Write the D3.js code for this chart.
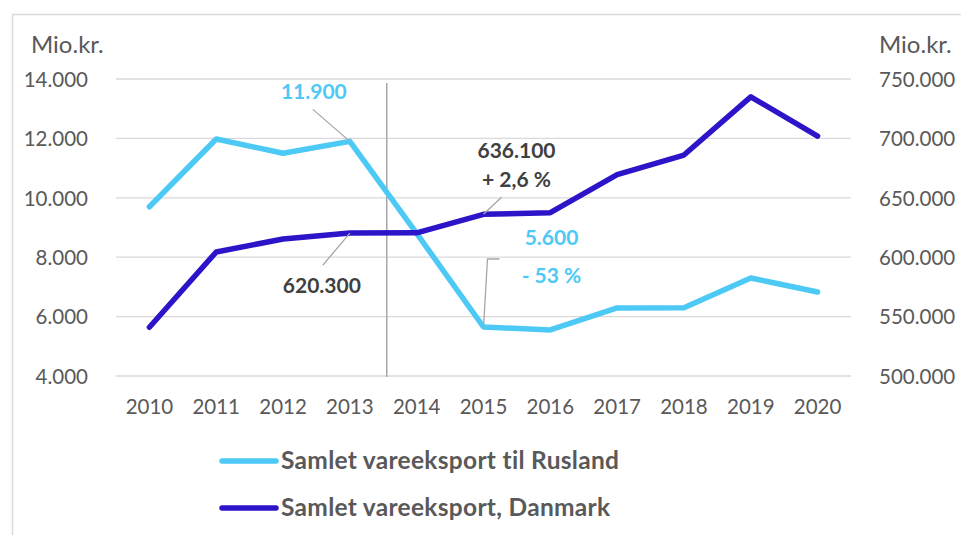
<!DOCTYPE html>
<html><head><meta charset="utf-8">
<script src="https://cdn.jsdelivr.net/npm/d3@7"></script>
<style>body{margin:0;background:#fff}svg{display:block}</style>
</head><body>
<svg id="c" width="961" height="535"></svg>
<script>
const years = ["2010","2011","2012","2013","2014","2015","2016","2017","2018","2019","2020"];
const rusland = [9700, 11980, 11500, 11900, 8800, 5650, 5550, 6290, 6300, 7300, 6830];
const danmark = [541000, 604400, 615300, 620300, 620500, 636100, 637500, 669500, 686000, 735000, 702000];
const leftTicks = [4000, 6000, 8000, 10000, 12000, 14000];
const rightTicks = [500000, 550000, 600000, 650000, 700000, 750000];
const seriesNames = ["Samlet vareeksport til Rusland", "Samlet vareeksport, Danmark"];
const colors = ["#4dc9f6", "#2c14c8"];

const svg = d3.select("#c");
const font = "Lato, 'Open Sans', sans-serif";
const fmt = v => d3.format(",")(v).replace(/,/g, ".");

svg.append("rect").attr("x", 12.5).attr("y", 14.5).attr("width", 1000).attr("height", 600)
  .attr("fill", "none").attr("stroke", "#d9d9d9").attr("stroke-width", 1.5);

const L = 116, R = 851, T = 79, B = 376;
const x = d3.scaleBand().domain(years).range([L, R]);
const xc = d => x(d) + x.bandwidth() / 2;
const yL = d3.scaleLinear().domain([4000, 14000]).range([B, T]);
const yR = d3.scaleLinear().domain([500000, 750000]).range([B, T]);

// grid
svg.append("g").selectAll("line").data(leftTicks).join("line")
  .attr("x1", L).attr("x2", R).attr("y1", d => yL(d)).attr("y2", d => yL(d))
  .attr("stroke", "#d9d9d9").attr("stroke-width", 1.3);

// left axis
const gl = svg.append("g").attr("transform", `translate(${L - 28},0)`)
  .call(d3.axisLeft(yL).tickValues(leftTicks).tickFormat(fmt).tickSize(0));
gl.select(".domain").remove();
gl.selectAll("text").attr("font-family", font).attr("font-size", 20.5).attr("fill", "#595959").attr("x", 0).attr("dy", "0.36em");

// right axis
const gr = svg.append("g").attr("transform", `translate(${R + 28},0)`)
  .call(d3.axisRight(yR).tickValues(rightTicks).tickFormat(fmt).tickSize(0));
gr.select(".domain").remove();
gr.selectAll("text").attr("font-family", font).attr("font-size", 20.5).attr("fill", "#595959").attr("dy", "0.36em").attr("x", 0);

// x axis
const gx = svg.append("g").attr("transform", `translate(0,${B})`)
  .call(d3.axisBottom(x).tickSize(0));
gx.select(".domain").remove();
gx.selectAll("text").attr("font-family", font).attr("font-size", 20.5).attr("fill", "#595959").attr("y", 0).attr("dy", "38");

// unit labels
svg.append("text").attr("x", 31).attr("y", 53).text("Mio.kr.")
  .attr("font-family", font).attr("font-size", 24).attr("fill", "#595959");
svg.append("text").attr("x", 879).attr("y", 53).text("Mio.kr.")
  .attr("font-family", font).attr("font-size", 24).attr("fill", "#595959");

// separator
const sepX = (xc("2013") + xc("2014")) / 2 + 3.5;
svg.append("line").attr("x1", sepX).attr("x2", sepX).attr("y1", T + 4).attr("y2", B + 1)
  .attr("stroke", "#a6a6a6").attr("stroke-width", 1.5);

// lines
const lineL = d3.line().x((d, i) => xc(years[i])).y(d => yL(d));
const lineR = d3.line().x((d, i) => xc(years[i])).y(d => yR(d));
svg.append("path").attr("d", lineL(rusland)).attr("fill", "none").attr("stroke", colors[0])
  .attr("stroke-width", 5.5).attr("stroke-linejoin", "round").attr("stroke-linecap", "round");
svg.append("path").attr("d", lineR(danmark)).attr("fill", "none").attr("stroke", colors[1])
  .attr("stroke-width", 5.5).attr("stroke-linejoin", "round").attr("stroke-linecap", "round");

// annotations
const lead = "#a6a6a6";
const ann = svg.append("g").attr("font-family", font).attr("font-weight", "bold").attr("font-size", 21).attr("text-anchor", "middle");
// 11.900
let px = xc("2013"), py = yL(rusland[3]);
svg.append("line").attr("x1", px - 37).attr("y1", py - 32).attr("x2", px).attr("y2", py).attr("stroke", lead).attr("stroke-width", 1.3);
ann.append("text").attr("x", px - 36).attr("y", py - 42).attr("fill", colors[0]).text(fmt(rusland[3]));
// 620.300
py = yR(danmark[3]);
svg.append("line").attr("x1", px - 27).attr("y1", py + 32).attr("x2", px).attr("y2", py).attr("stroke", lead).attr("stroke-width", 1.3);
ann.append("text").attr("x", px - 28).attr("y", py + 60).attr("fill", "#404040").text(fmt(danmark[3]));
// 636.100
px = xc("2015"); py = yR(danmark[5]);
svg.append("line").attr("x1", px + 18).attr("y1", py - 17).attr("x2", px).attr("y2", py).attr("stroke", lead).attr("stroke-width", 1.3);
ann.append("text").attr("x", px + 33).attr("y", py - 56).attr("fill", "#404040").text(fmt(danmark[5]));
ann.append("text").attr("x", px + 33).attr("y", py - 27).attr("fill", "#404040").text("+ 2,6 %");
// 5.600
py = yL(rusland[5]);
svg.append("path").attr("d", `M${px},${py} L${px + 4},${py - 68} L${px + 16},${py - 68}`)
  .attr("fill", "none").attr("stroke", lead).attr("stroke-width", 1.3);
ann.append("text").attr("x", px + 68).attr("y", py - 82).attr("fill", colors[0]).text("5.600");
ann.append("text").attr("x", px + 68).attr("y", py - 44).attr("fill", colors[0]).text("- 53 %");

// legend
const lg = svg.append("g");
seriesNames.forEach((n, i) => {
  const yy = 461 + i * 47;
  lg.append("line").attr("x1", 222).attr("x2", 276).attr("y1", yy).attr("y2", yy)
    .attr("stroke", colors[i]).attr("stroke-width", 5.5).attr("stroke-linecap", "round");
  lg.append("text").attr("x", 281).attr("y", yy + 8).text(n)
    .attr("font-family", font).attr("font-weight", "bold").attr("font-size", 24.5)
    .attr("letter-spacing", 0.3).attr("fill", "#595959");
});
</script>
</body></html>
